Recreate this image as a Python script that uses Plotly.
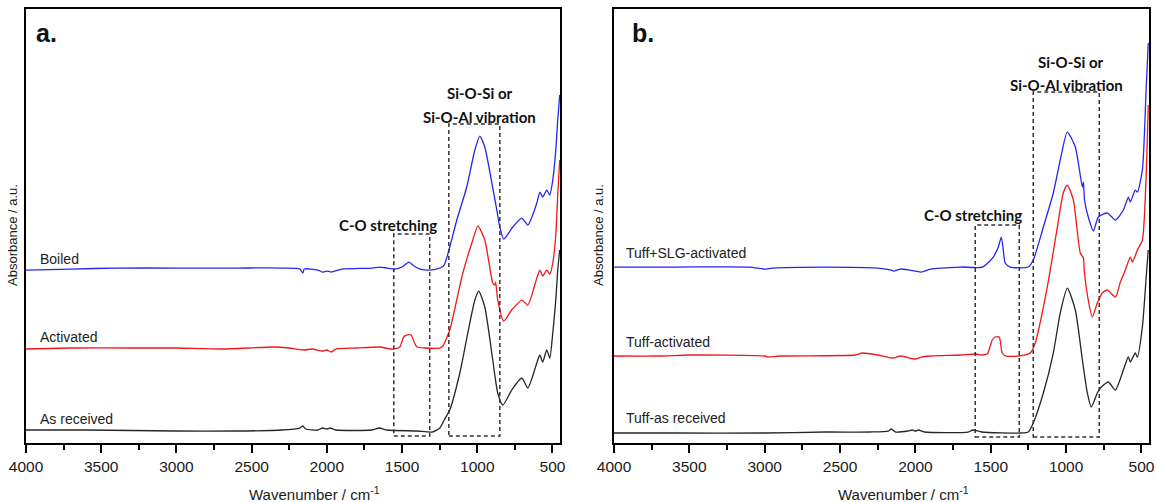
import plotly.graph_objects as go

# ---------------- data (wavenumber / cm-1, absorbance a.u. with offsets) ----------------
A_BOILED_WN = [4000, 3700, 3400, 3000, 2600, 2300, 2180, 2160, 2150, 2060, 2030, 2000, 1970, 1900, 1700, 1650, 1600, 1550, 1500, 1455, 1420, 1380, 1315, 1249, 1220, 1183, 1136, 1070, 1016, 983, 950, 903, 870, 850, 824, 764, 704, 664, 604, 584, 565, 538, 518, 498, 478, 465, 452]
A_BOILED_AB = [1.73, 1.74, 1.75, 1.75, 1.75, 1.75, 1.74, 1.70, 1.74, 1.73, 1.71, 1.72, 1.71, 1.74, 1.75, 1.76, 1.75, 1.74, 1.76, 1.81, 1.77, 1.74, 1.73, 1.75, 1.78, 1.96, 2.23, 2.56, 2.93, 3.07, 2.96, 2.60, 2.33, 2.16, 2.04, 2.16, 2.25, 2.18, 2.40, 2.51, 2.46, 2.53, 2.48, 2.63, 2.93, 3.23, 3.48]

A_ACT_WN = [4000, 3700, 3300, 3000, 2700, 2350, 2250, 2150, 2100, 2030, 2000, 1970, 1940, 1800, 1650, 1570, 1515, 1490, 1470, 1440, 1420, 1400, 1350, 1249, 1229, 1183, 1096, 1036, 996, 950, 897, 885, 878, 864, 824, 771, 704, 664, 604, 584, 565, 538, 518, 498, 478, 465, 452]
A_ACT_AB = [0.94, 0.95, 0.95, 0.95, 0.94, 0.96, 0.95, 0.93, 0.94, 0.92, 0.93, 0.91, 0.94, 0.95, 0.96, 0.94, 0.96, 1.06, 1.08, 1.08, 1.01, 0.96, 0.95, 0.95, 0.97, 1.13, 1.70, 2.00, 2.17, 2.03, 1.60, 1.58, 1.61, 1.43, 1.22, 1.33, 1.43, 1.38, 1.65, 1.73, 1.67, 1.73, 1.69, 1.80, 2.08, 2.48, 2.83]

A_RAW_WN = [4000, 3600, 3000, 2600, 2300, 2180, 2160, 2140, 2060, 2030, 2000, 1980, 1940, 1700, 1650, 1600, 1400, 1300, 1249, 1220, 1183, 1116, 1063, 1016, 990, 950, 897, 864, 830, 771, 704, 664, 604, 584, 565, 538, 518, 498, 478, 465, 452]
A_RAW_AB = [0.13, 0.13, 0.12, 0.12, 0.13, 0.15, 0.17, 0.14, 0.13, 0.15, 0.14, 0.15, 0.13, 0.13, 0.15, 0.13, 0.12, 0.11, 0.15, 0.23, 0.33, 0.70, 1.10, 1.43, 1.52, 1.36, 0.83, 0.50, 0.38, 0.53, 0.65, 0.55, 0.80, 0.88, 0.81, 0.93, 0.85, 1.10, 1.43, 1.73, 1.93]

B_SLG_WN = [4000, 3600, 3100, 3000, 2950, 2600, 2250, 2160, 2145, 2100, 2040, 2000, 1960, 1900, 1700, 1556, 1483, 1450, 1430, 1417, 1404, 1371, 1251, 1218, 1151, 1085, 1039, 992, 939, 892, 885, 878, 853, 819, 786, 726, 673, 620, 587, 574, 541, 527, 494, 470, 455]
B_SLG_AB = [1.76, 1.76, 1.76, 1.74, 1.75, 1.76, 1.75, 1.73, 1.72, 1.74, 1.73, 1.72, 1.71, 1.74, 1.76, 1.76, 1.86, 1.96, 2.06, 1.93, 1.80, 1.76, 1.76, 1.83, 2.16, 2.50, 2.83, 3.11, 2.96, 2.56, 2.61, 2.43, 2.26, 2.12, 2.26, 2.30, 2.23, 2.33, 2.46, 2.41, 2.53, 2.51, 2.73, 3.50, 4.00]

B_ACT_WN = [4000, 3700, 3500, 3000, 2980, 2900, 2400, 2350, 2250, 2150, 2100, 2000, 1960, 1900, 1700, 1600, 1556, 1523, 1490, 1470, 1444, 1424, 1400, 1317, 1238, 1205, 1125, 1058, 1019, 992, 952, 906, 885, 880, 853, 826, 793, 760, 726, 673, 640, 607, 574, 560, 527, 494, 470, 455]
B_ACT_AB = [0.87, 0.87, 0.88, 0.87, 0.86, 0.87, 0.88, 0.90, 0.88, 0.85, 0.87, 0.84, 0.86, 0.87, 0.88, 0.89, 0.88, 0.89, 1.03, 1.06, 1.06, 0.90, 0.87, 0.87, 0.90, 1.00, 1.56, 2.16, 2.50, 2.58, 2.43, 1.90, 1.85, 1.73, 1.43, 1.26, 1.40, 1.50, 1.53, 1.46, 1.61, 1.73, 1.86, 1.81, 1.93, 2.03, 2.63, 3.38]

B_RAW_WN = [4000, 3600, 3000, 2600, 2300, 2180, 2160, 2130, 2050, 2020, 2000, 1980, 1940, 1650, 1620, 1560, 1300, 1251, 1218, 1151, 1085, 1039, 992, 939, 892, 859, 833, 793, 773, 720, 673, 620, 587, 574, 541, 527, 494, 470, 455]
B_RAW_AB = [0.10, 0.10, 0.10, 0.11, 0.11, 0.12, 0.14, 0.11, 0.12, 0.13, 0.12, 0.13, 0.11, 0.11, 0.13, 0.11, 0.10, 0.11, 0.20, 0.50, 0.90, 1.30, 1.55, 1.33, 0.83, 0.50, 0.36, 0.50, 0.55, 0.61, 0.53, 0.73, 0.86, 0.81, 0.90, 0.86, 1.16, 1.63, 1.93]

A_LABELS = ["Boiled", "Activated", "As received"]
A_LABEL_Y = [1.84, 1.06, 0.24]
B_LABELS = ["Tuff+SLG-activated", "Tuff-activated", "Tuff-as received"]
B_LABEL_Y = [1.90, 1.01, 0.25]

# dashed regions: (wn_high, wn_low, ab_bottom, ab_top)
A_CO_BOX = [1555, 1316, 0.07, 2.09]
A_SI_BOX = [1189, 850, 0.07, 3.19]
B_CO_BOX = [1603, 1311, 0.06, 2.18]
B_SI_BOX = [1218, 780, 0.06, 3.51]

X_TICKS = [4000, 3500, 3000, 2500, 2000, 1500, 1000, 500]

BLUE, RED, BLACK = "#2626ee", "#f01818", "#262626"

fig = go.Figure()

def add_line(wn, ab, color, xa, ya):
    fig.add_trace(go.Scatter(x=wn, y=ab, mode="lines", xaxis=xa, yaxis=ya,
                             line=dict(color=color, width=1.3, shape="spline", smoothing=0.6),
                             hoverinfo="skip", showlegend=False))

add_line(A_RAW_WN, A_RAW_AB, BLACK, "x", "y")
add_line(A_ACT_WN, A_ACT_AB, RED, "x", "y")
add_line(A_BOILED_WN, A_BOILED_AB, BLUE, "x", "y")
add_line(B_RAW_WN, B_RAW_AB, BLACK, "x2", "y2")
add_line(B_ACT_WN, B_ACT_AB, RED, "x2", "y2")
add_line(B_SLG_WN, B_SLG_AB, BLUE, "x2", "y2")

def xaxis_cfg(domain):
    return dict(domain=domain, range=[4000, 450], autorange=False, automargin=False,
                tickmode="array", tickvals=X_TICKS, ticktext=[str(t) for t in X_TICKS],
                ticks="outside", ticklen=8, tickwidth=1.5, tickcolor="black",
                minor=dict(tickmode="linear", tick0=250, dtick=250, ticks="outside",
                           ticklen=5, tickwidth=1.5, tickcolor="black", showgrid=False),
                showline=True, linecolor="black", linewidth=1.8, mirror=True,
                showgrid=False, zeroline=False,
                tickfont=dict(family="Liberation Sans, Arial", size=15.5, color="#1a1a1a"))

def yaxis_cfg(anchor):
    return dict(domain=[0.1175, 0.982], range=[0, 4.34], autorange=False, anchor=anchor,
                automargin=False, showticklabels=False, ticks="", showline=True,
                linecolor="black", linewidth=1.8, mirror=True, showgrid=False, zeroline=False)

fig.update_layout(
    template="none",
    width=1156, height=502, margin=dict(l=0, r=0, t=0, b=0, pad=0, autoexpand=False),
    paper_bgcolor="white", plot_bgcolor="white", showlegend=False,
    xaxis=dict(**xaxis_cfg([26/1156, 560/1156]), anchor="y"),
    yaxis=yaxis_cfg("x"),
    xaxis2=dict(**xaxis_cfg([614/1156, 1149/1156]), anchor="y2"),
    yaxis2=yaxis_cfg("x2"),
)

def add_box(box, xr, yr):
    fig.add_shape(type="rect", xref=xr, yref=yr, x0=box[0], x1=box[1], y0=box[2], y1=box[3],
                  line=dict(color="#333333", width=1.5, dash="4px,3px"), fillcolor="rgba(0,0,0,0)")

add_box(A_CO_BOX, "x", "y")
add_box(A_SI_BOX, "x", "y")
add_box(B_CO_BOX, "x2", "y2")
add_box(B_SI_BOX, "x2", "y2")

lab_font = dict(family="Liberation Sans, Arial", size=14, color="#222222")
for t, yv in zip(A_LABELS, A_LABEL_Y):
    fig.add_annotation(x=3920, y=yv, xref="x", yref="y", text=t, showarrow=False,
                       xanchor="left", yanchor="middle", font=lab_font)
for t, yv in zip(B_LABELS, B_LABEL_Y):
    fig.add_annotation(x=3935, y=yv, xref="x2", yref="y2", text=t, showarrow=False,
                       xanchor="left", yanchor="middle", font=lab_font)

bold_font = dict(family="Lato, Open Sans", size=15, color="#111111")
notes = [
    ("x", "y", 983, 3.50, "Si-O-Si or"),
    ("x", "y", 983, 3.26, "Si-O-Al vibration"),
    ("x", "y", 1594, 2.18, "C-O stretching"),
    ("x2", "y2", 966, 3.81, "Si-O-Si or"),
    ("x2", "y2", 999, 3.58, "Si-O-Al vibration"),
    ("x2", "y2", 1616, 2.28, "C-O stretching"),
]
for xr, yr, xv, yv, t in notes:
    fig.add_annotation(x=xv, y=yv, xref=xr, yref=yr, text="<b>%s</b>" % t, showarrow=False,
                       xanchor="center", yanchor="middle", font=bold_font)

panel_font = dict(family="Liberation Sans, Arial", size=25, color="#111111")
fig.add_annotation(x=3945, y=4.10, xref="x", yref="y", text="<b>a.</b>", showarrow=False,
                   xanchor="left", yanchor="middle", font=panel_font)
fig.add_annotation(x=3895, y=4.10, xref="x2", yref="y2", text="<b>b.</b>", showarrow=False,
                   xanchor="left", yanchor="middle", font=panel_font)

ttl_font = dict(family="Liberation Sans, Arial", size=15, color="#1a1a1a")
for xp in [314/1156, 903/1156]:
    fig.add_annotation(x=xp, y=(502-493)/502, xref="paper", yref="paper",
                       text="Wavenumber / cm<sup>-1</sup>", showarrow=False,
                       xanchor="center", yanchor="middle", font=ttl_font)
ytl_font = dict(family="Liberation Sans, Arial", size=13, color="#1a1a1a")
for xp in [12/1156, 598/1156]:
    fig.add_annotation(x=xp, y=(502-235)/502, xref="paper", yref="paper",
                       text="Absorbance / a.u.", textangle=-90, showarrow=False,
                       xanchor="center", yanchor="middle", font=ytl_font)

fig.write_html("out.html", config={"displayModeBar": False})
